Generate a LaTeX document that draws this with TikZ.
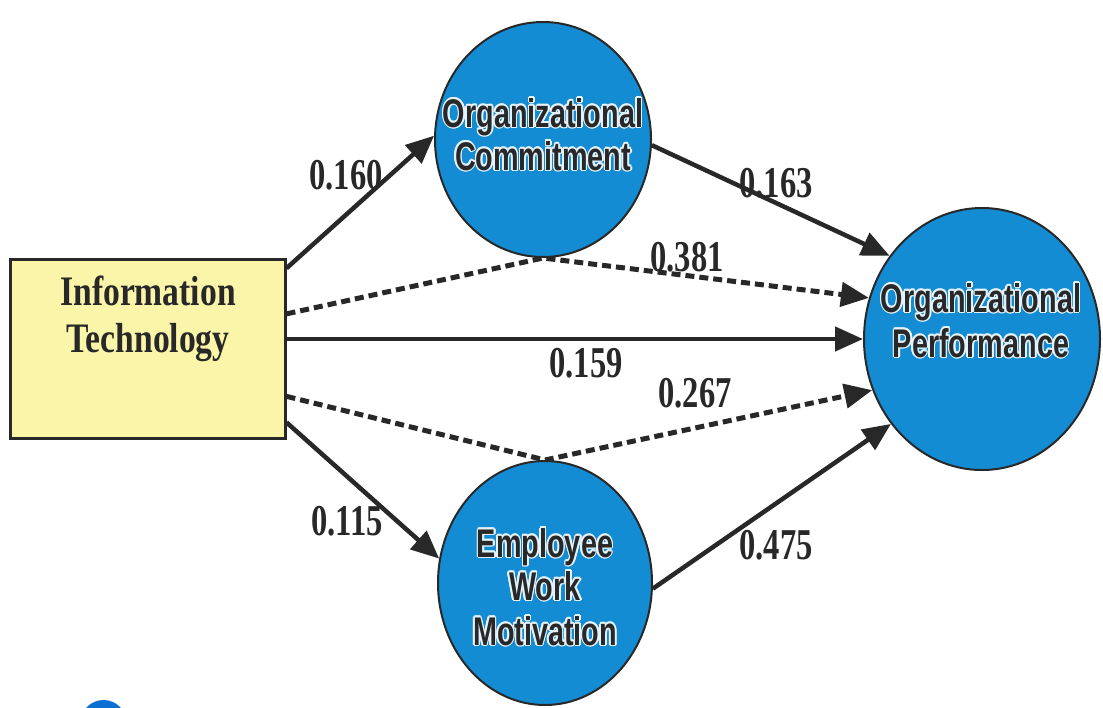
\documentclass[tikz,border=0pt]{standalone}
\usepackage{fontspec}
\usepackage{contour}
\usetikzlibrary{shapes.geometric,arrows.meta,backgrounds}
\definecolor{nodeblue}{RGB}{20,140,212}
\definecolor{boxyellow}{RGB}{251,245,170}
\definecolor{ink}{RGB}{40,40,40}
\definecolor{halo}{RGB}{228,242,252}
\definecolor{dotblue}{RGB}{12,112,210}
\newfontfamily\lblfont[FakeStretch=0.74]{Liberation Serif}
\newfontfamily\boxfont[FakeStretch=0.80]{Liberation Serif}
\newfontfamily\circfont[FakeStretch=0.72]{Liberation Sans}
\contourlength{1.6pt}
\contournumber{12}
\tikzset{
  latent/.style={ellipse, draw=ink, line width=2pt, fill=nodeblue, inner sep=0pt},
  circtext/.style={anchor=base, inner sep=0pt, text=ink, font=\circfont\bfseries\fontsize{40}{40}\selectfont},
  boxtext/.style={anchor=base, inner sep=0pt, text=ink, font=\boxfont\bfseries\fontsize{42}{42}\selectfont},
  coef/.style={inner sep=0pt, text=ink, font=\lblfont\bfseries\fontsize{44}{44}\selectfont},
  solidarrow/.style={draw=ink, line width=4.5pt, -{Triangle[length=28pt,width=24pt]}},
  dasharrow/.style={solidarrow, dash pattern=on 9pt off 5pt, line width=5pt},
}
\begin{document}
\begin{tikzpicture}[x=1pt,y=-1pt]
\useasboundingbox (0,0) rectangle (1103,707);
\clip (0,0) rectangle (1103,707);
% nodes
\node[draw=ink, line width=3pt, fill=boxyellow, minimum width=275pt, minimum height=179pt, inner sep=0pt] (IT) at (147.5,348.5) {};
\node[latent, minimum width=216pt, minimum height=235pt] (OC) at (543,139.5) {};
\node[latent, minimum width=236pt, minimum height=262pt] (OP) at (982,339) {};
\node[latent, minimum width=214pt, minimum height=244pt] (EWM) at (545,583) {};
% texts
\node[boxtext] (it1) at (148,305) {Information};
\node[boxtext] (it2) at (148,352) {Technology};
\node[circtext] (oc1) at (543,127) {\contour{halo}{Organizational}};
\node[circtext] (oc2) at (543,170) {\contour{halo}{Commitment}};
\node[circtext] (op1) at (981,312) {\contour{halo}{Organizational}};
\node[circtext] (op2) at (981,357) {\contour{halo}{Performance}};
\node[circtext] (ew1) at (545,557) {\contour{halo}{Employee}};
\node[circtext] (ew2) at (545,600) {\contour{halo}{Work}};
\node[circtext] (ew3) at (545,645) {\contour{halo}{Motivation}};
% connectors
\begin{scope}[on background layer]
\fill[white] (0,0) rectangle (1103,707);
\draw[solidarrow] (IT.30) -- (OC.178);
\draw[solidarrow] (OC.-3) -- (OP.138);
\draw[solidarrow] (IT.east |- OP.west) -- (OP.west);
\draw[dasharrow] (IT.14) -- (OC.south) -- (OP.160);
\draw[dasharrow] (IT.-19.6) -- (EWM.north) -- (OP.-155.5);
\draw[solidarrow] (IT.-28.8) -- (EWM.167.6);
\draw[solidarrow] (EWM.-3.8) -- (OP.-137.5);
\end{scope}
% coefficients
\node[coef] (c160) at (346,175) {0.160};
\node[coef] (c163) at (776,183) {0.163};
\node[coef] (c381) at (687,257) {0.381};
\node[coef] (c159) at (586,363) {0.159};
\node[coef] (c267) at (695,393) {0.267};
\node[coef] (c115) at (347,521) {0.115};
\node[coef] (c475) at (776,545) {0.475};
% partial blue disk at bottom left
\fill[dotblue] (103.5,723) circle (23);
\end{tikzpicture}
\end{document}
